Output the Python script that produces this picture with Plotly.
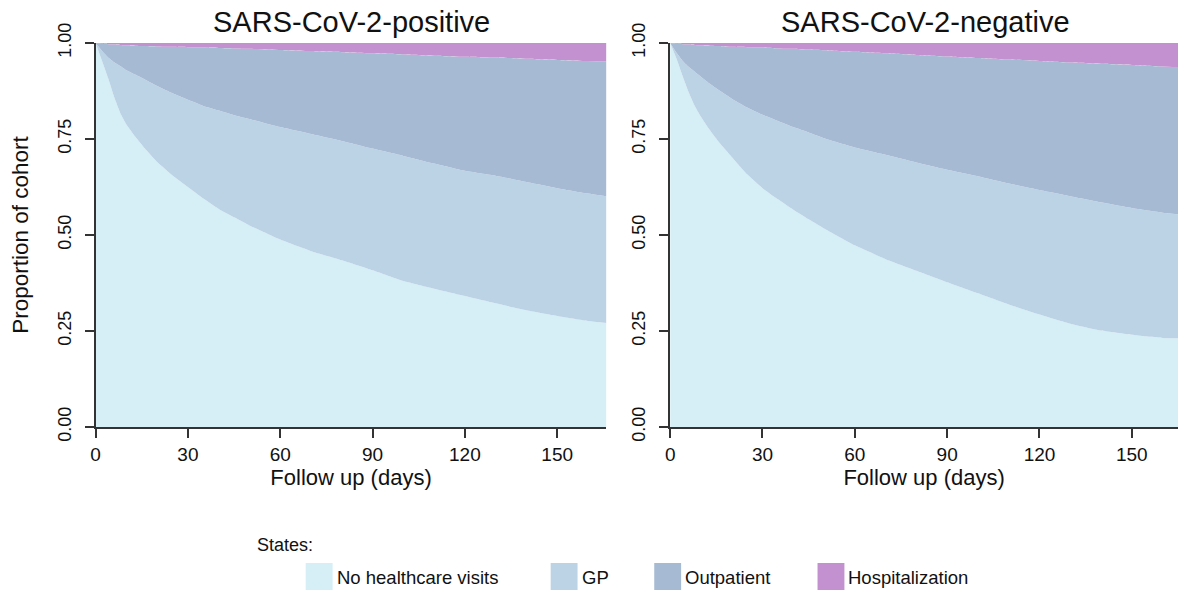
import plotly.graph_objects as go

# Follow-up days at which the stacked proportions were read
days = [0, 2, 4, 6, 8, 10, 13, 16, 20, 25, 30, 35, 40, 45, 50, 60, 70,
        80, 90, 100, 110, 120, 130, 140, 150, 160, 166]

# SARS-CoV-2-positive: cumulative proportion (upper edge of each state)
pos_no_visits = [1.0, 0.955, 0.91, 0.86, 0.818, 0.788, 0.755, 0.725, 0.69, 0.655,
                 0.625, 0.595, 0.568, 0.546, 0.525, 0.488, 0.458, 0.434, 0.408,
                 0.38, 0.36, 0.341, 0.322, 0.304, 0.289, 0.276, 0.271]
pos_gp = [1.0, 0.98, 0.963, 0.95, 0.94, 0.929, 0.917, 0.905, 0.888, 0.869, 0.852,
          0.836, 0.824, 0.812, 0.802, 0.781, 0.763, 0.745, 0.725, 0.706, 0.686,
          0.667, 0.654, 0.638, 0.622, 0.608, 0.601]
pos_outpatient = [1.0, 0.998, 0.997, 0.996, 0.995, 0.994, 0.993, 0.992, 0.991,
                  0.99, 0.989, 0.988, 0.987, 0.986, 0.985, 0.982, 0.979, 0.976,
                  0.973, 0.97, 0.967, 0.964, 0.962, 0.959, 0.956, 0.953, 0.952]

# SARS-CoV-2-negative
neg_no_visits = [1.0, 0.96, 0.915, 0.872, 0.836, 0.808, 0.772, 0.74, 0.703, 0.658,
                 0.622, 0.593, 0.566, 0.541, 0.517, 0.473, 0.437, 0.407, 0.377,
                 0.348, 0.319, 0.293, 0.269, 0.251, 0.24, 0.232, 0.231]
neg_gp = [1.0, 0.975, 0.954, 0.938, 0.925, 0.912, 0.893, 0.876, 0.855, 0.832,
          0.813, 0.797, 0.781, 0.767, 0.752, 0.728, 0.709, 0.689, 0.67, 0.653,
          0.634, 0.617, 0.601, 0.585, 0.57, 0.558, 0.553]
neg_outpatient = [1.0, 0.998, 0.997, 0.996, 0.995, 0.994, 0.993, 0.992, 0.99,
                  0.989, 0.988, 0.986, 0.985, 0.983, 0.981, 0.977, 0.973, 0.969,
                  0.965, 0.961, 0.957, 0.953, 0.949, 0.946, 0.943, 0.939, 0.937]

states = ['No healthcare visits', 'GP', 'Outpatient', 'Hospitalization']
colors = ['#D6EEF5', '#BCD3E6', '#A7BAD3', '#C491D0']
x_ticks = [0, 30, 60, 90, 120, 150]
y_ticks = [0, 0.25, 0.5, 0.75, 1]
y_ticktext = ['0.00', '0.25', '0.50', '0.75', '1.00']

W, H = 1178, 592
TOP, BOTTOM = 43, 427  # pixel rows of y=1 and y=0
FONT = 'Liberation Sans, Arial, sans-serif'
AXIS = '#333333'
INK = '#111111'


def px_x(x):
    return x / W


def px_y(y):
    return (BOTTOM - y) / (BOTTOM - TOP)


fig = go.Figure()

panels = [
    ('x', 'y', [pos_no_visits, pos_gp, pos_outpatient, [1.0] * len(days)]),
    ('x2', 'y2', [neg_no_visits, neg_gp, neg_outpatient, [1.0] * len(days)]),
]
for xref, yref, bounds in panels:
    for i, (state, color, upper) in enumerate(zip(states, colors, bounds)):
        fig.add_trace(go.Scatter(
            x=days,
            y=upper,
            xaxis=xref,
            yaxis=yref,
            mode='lines',
            line=dict(width=0, shape='spline', smoothing=0.4),
            fill='tozeroy' if i == 0 else 'tonexty',
            fillcolor=color,
            name=state,
            showlegend=False,
            hovertemplate=f'<b>{state}</b><br>Day %{{x}}<br>Cumulative: %{{y:.2f}}<extra></extra>'
        ))

x_common = dict(
    tickvals=x_ticks,
    showline=True, linecolor=AXIS, linewidth=1.5,
    ticks='outside', ticklen=9, tickwidth=1.5, tickcolor=AXIS,
    showgrid=False, zeroline=False,
    tickfont=dict(size=19, color=INK),
    title=dict(text='Follow up (days)', font=dict(size=22, color=INK), standoff=2),
)
y_common = dict(
    range=[0, 1], tickvals=y_ticks, ticktext=y_ticktext, tickangle=-90,
    showline=True, linecolor=AXIS, linewidth=1.5,
    ticks='outside', ticklen=9, tickwidth=1.5, tickcolor=AXIS,
    ticklabelstandoff=7,
    showgrid=False, zeroline=False,
    tickfont=dict(size=18, color=INK),
)

fig.update_layout(
    width=W, height=H,
    margin=dict(l=0, r=0, t=TOP, b=H - BOTTOM),
    paper_bgcolor='white', plot_bgcolor='white',
    font=dict(family=FONT, color=INK),
    showlegend=False,
    xaxis=dict(domain=[px_x(91), px_x(604)], range=[0, 166], **x_common),
    xaxis2=dict(domain=[px_x(668), 1.0], range=[0, 165], **x_common),
    yaxis=dict(anchor='x', title=dict(text='Proportion of cohort',
                                      font=dict(size=22.5, color=INK), standoff=20),
               **y_common),
    yaxis2=dict(anchor='x2', **y_common),
)

# Panel titles
for title, x0, x1 in [('SARS-CoV-2-positive', 91, 604), ('SARS-CoV-2-negative', 668, 1180)]:
    fig.add_annotation(text=title, x=px_x((x0 + x1) / 2), y=px_y(22.5), xref='paper', yref='paper',
                       xanchor='center', yanchor='middle', showarrow=False,
                       font=dict(size=29, color=INK))

# Legend drawn below the panels
fig.add_annotation(text='States:', x=px_x(251), y=px_y(545), xref='paper', yref='paper',
                   xanchor='left', yanchor='middle', showarrow=False, font=dict(size=18))
swatch_left = [302, 548, 652, 816]
for state, color, left in zip(states, colors, swatch_left):
    fig.add_shape(type='rect', xref='paper', yref='paper',
                  x0=px_x(left), x1=px_x(left + 27), y0=px_y(563), y1=px_y(590),
                  fillcolor=color, line=dict(width=0))
    fig.add_annotation(text=state, x=px_x(left + 29), y=px_y(577), xref='paper', yref='paper',
                       xanchor='left', yanchor='middle', showarrow=False, font=dict(size=18.5))

# the page's default body margin would push the fixed-size figure off the window
fig.write_html('out.html', config={'displayModeBar': False},
               post_script="document.body.style.margin='0';")
